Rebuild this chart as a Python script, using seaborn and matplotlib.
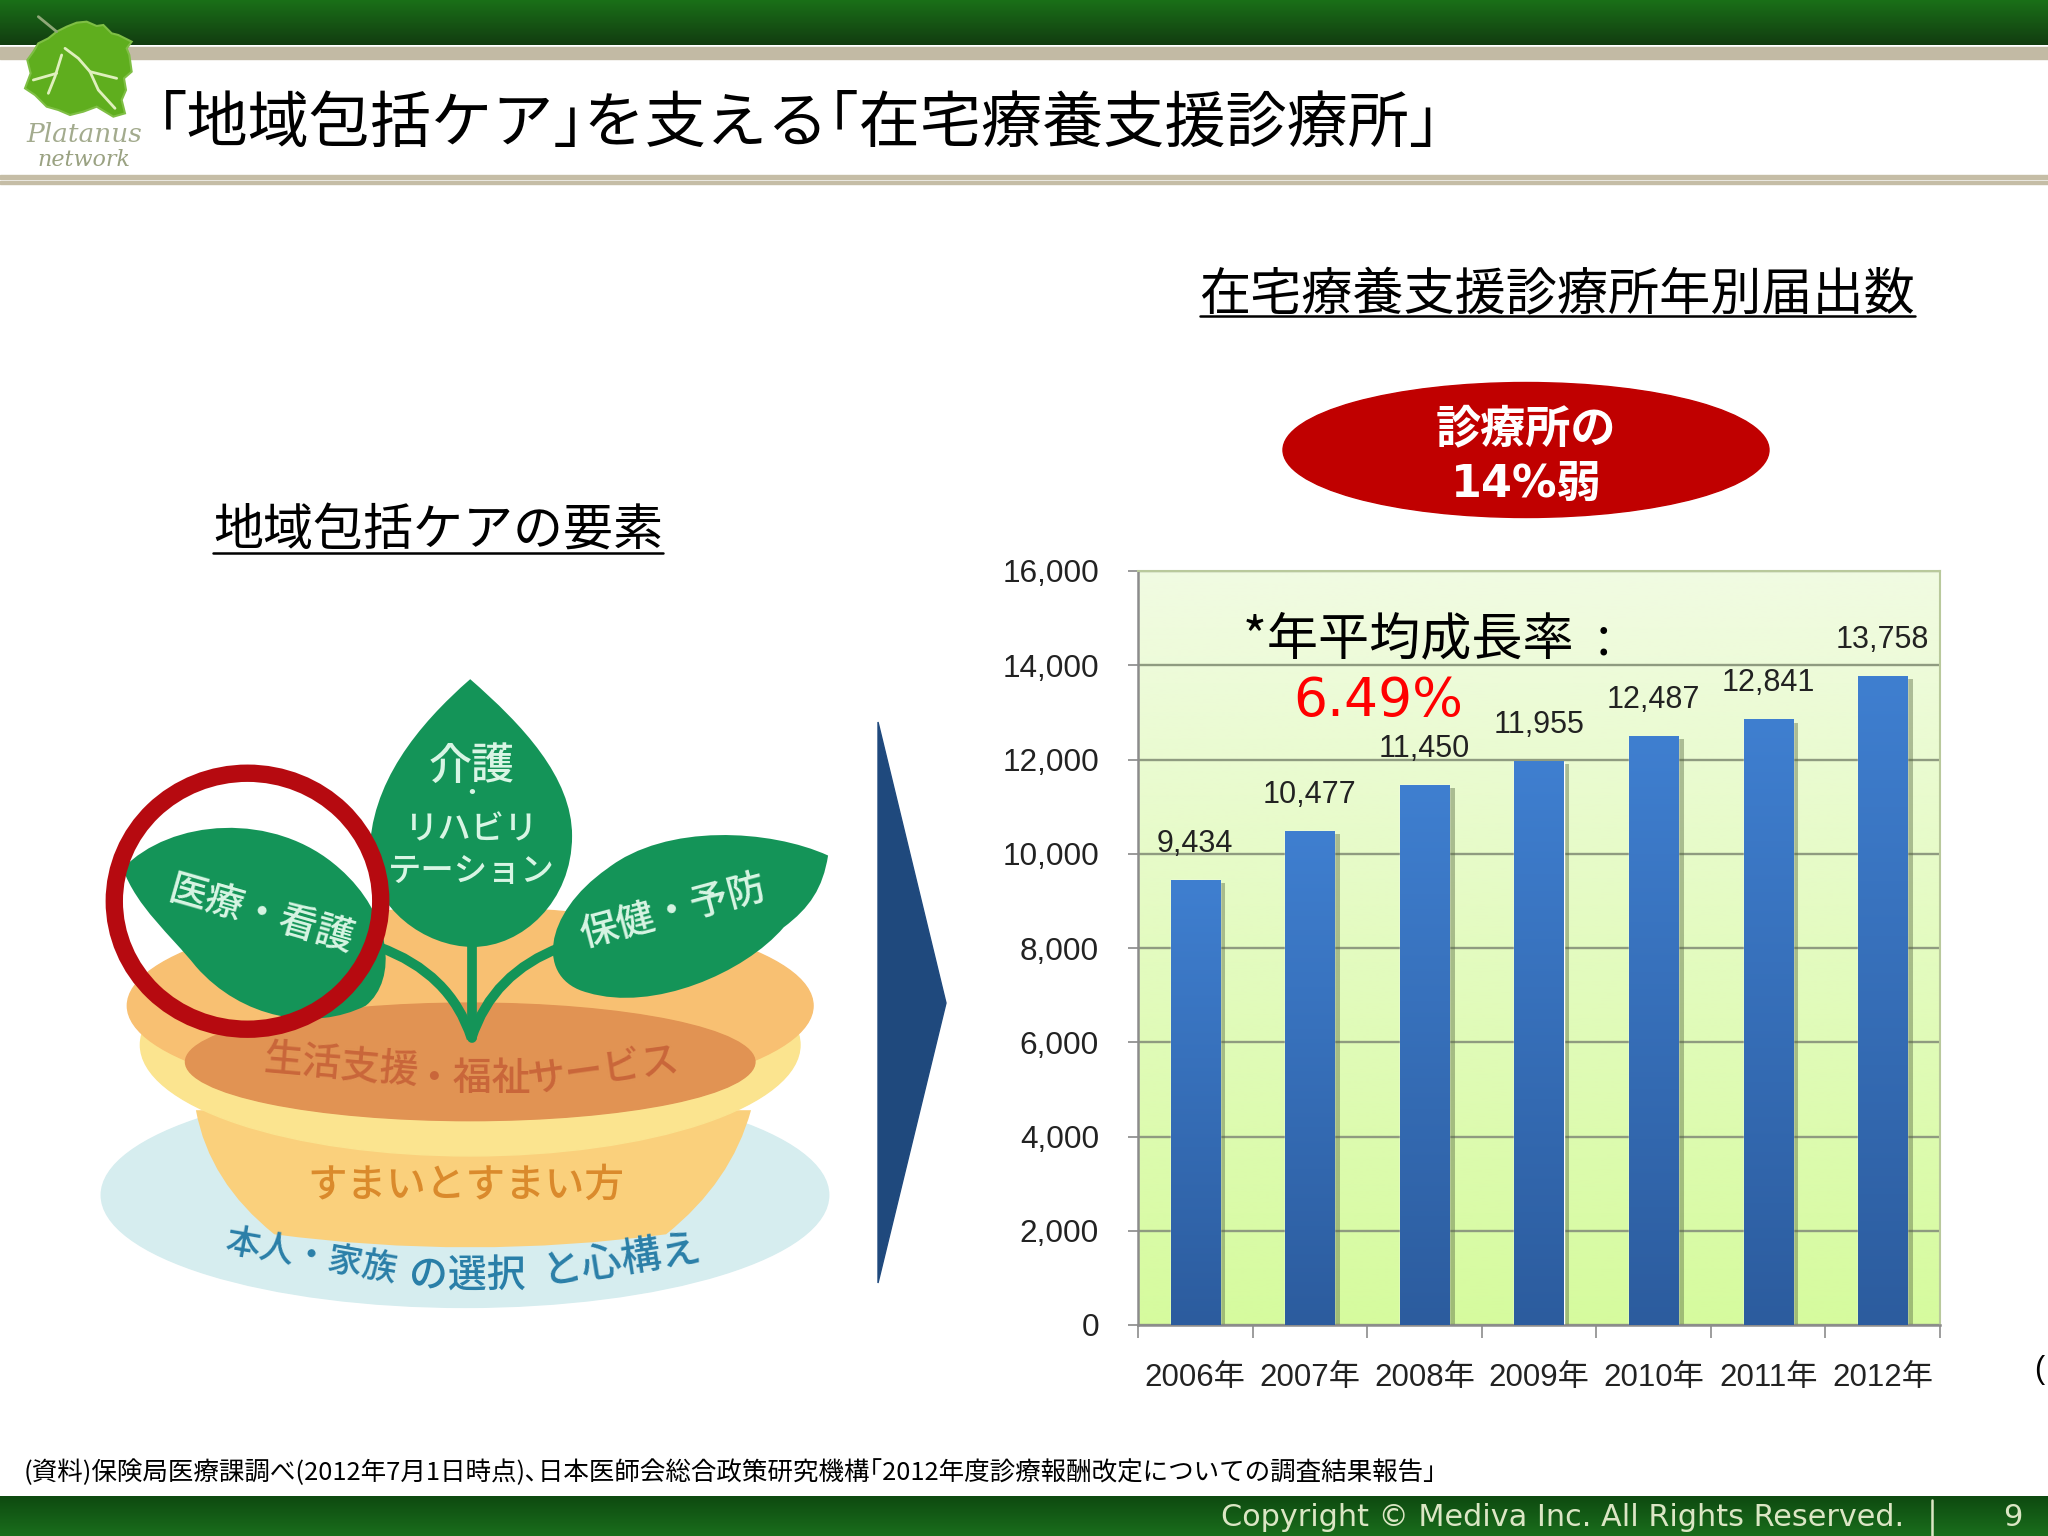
import numpy as np
import matplotlib
matplotlib.use("Agg")
import matplotlib.pyplot as plt
import seaborn as sns
from matplotlib.patches import Ellipse, Polygon, PathPatch, Rectangle
from matplotlib.path import Path
from matplotlib.colors import LinearSegmentedColormap
from matplotlib import patheffects as pe
from matplotlib.ticker import FuncFormatter

years = ["2006年", "2007年", "2008年", "2009年", "2010年", "2011年", "2012年"]
counts = [9434, 10477, 11450, 11955, 12487, 12841, 13758]
y_ticks = [0, 2000, 4000, 6000, 8000, 10000, 12000, 14000, 16000]

JP = ["Noto Sans CJK JP", "DejaVu Sans"]
NUM = ["Liberation Sans", "Noto Sans CJK JP"]

sns.set_theme(style="white")
plt.rcParams["font.family"] = JP

W, H = 2048, 1536
fig = plt.figure(figsize=(W / 100, H / 100), dpi=100, facecolor="white")


def vgrad(top, bottom):
    return LinearSegmentedColormap.from_list("g", [top, bottom])


# ---------- chart ----------
L, R, T, B = 1138, 1940, 571, 1325
ax = fig.add_axes([L / W, 1 - B / H, (R - L) / W, (B - T) / H], zorder=1)
plot_df = {"year": years, "count": counts}
sns.barplot(data=plot_df, x="year", y="count", width=0.43, color="#3a74c2",
            saturation=1, ax=ax, zorder=2)
ax.set_xlim(-0.5, 6.5)
ax.set_ylim(0, 16000)
ax.set_xlabel("")
ax.set_ylabel("")
grad = np.linspace(0, 1, 256).reshape(-1, 1)
ax.imshow(grad, extent=(-0.5, 6.5, 0, 16000), aspect="auto", zorder=0,
          cmap=vgrad("#f1fbe2", "#d6fb9e"), origin="upper")
for bar in ax.patches:
    bar.set_path_effects([pe.SimplePatchShadow(offset=(4, -2), shadow_rgbFace="#55663f", alpha=0.42),
                          pe.Normal()])
    x0, y0 = bar.get_x(), bar.get_y()
    ax.imshow(grad, extent=(x0, x0 + bar.get_width(), y0, y0 + bar.get_height()),
              aspect="auto", zorder=3, cmap=vgrad("#3f7fd0", "#2c5c9e"), origin="upper")
ax.set_xlim(-0.5, 6.5)
ax.set_ylim(0, 16000)
ax.set_axisbelow(True)
ax.yaxis.grid(True, color="#8f9b80", lw=1.7)
ax.xaxis.grid(False)
ax.set_yticks(y_ticks)
ax.yaxis.set_major_formatter(FuncFormatter(lambda v, _: f"{int(v):,}"))
ax.set_xticks(np.arange(-0.5, 7, 1), minor=True)
ax.tick_params(axis="x", which="major", length=0, pad=27.5, labelsize=22.5, labelcolor="#222222")
ax.tick_params(axis="x", which="minor", length=9, width=1.2, color="#8c8c8c", bottom=True)
ax.tick_params(axis="y", length=7, width=1.4, color="#9a9a9a", pad=21, labelsize=22.7,
               labelcolor="#222222", left=True)
for lab in ax.get_xticklabels() + ax.get_yticklabels():
    lab.set_fontfamily(NUM)
for side in ["top", "right"]:
    ax.spines[side].set_color("#b9c99c")
    ax.spines[side].set_linewidth(1.5)
for side in ["left", "bottom"]:
    ax.spines[side].set_color("#8c8c8c")
    ax.spines[side].set_linewidth(1.8)
labels = ax.bar_label(ax.containers[0], labels=[f"{v:,}" for v in counts], padding=15.5,
                      fontsize=22, color="#222222", zorder=5)
for t in labels:
    t.set_fontfamily(NUM)

# ---------- slide overlay ----------
ov = fig.add_axes([0, 0, 1, 1], zorder=10)
ov.set_xlim(0, W)
ov.set_ylim(H, 0)
ov.axis("off")
ov.patch.set_alpha(0)

S = 2048 / 1568


def P(pts):
    return [(x * S, y * S) for x, y in pts]


def txt(x, y, s, size, color="black", ha="center", va="center", rot=0, **kw):
    return ov.text(x, y + 4, s, fontsize=size, color=color, ha=ha, va=va, rotation=rot,
                   rotation_mode="anchor", **kw)


def band(y0, y1, top, bottom):
    ov.imshow(grad, extent=(0, W, y1, y0), aspect="auto", cmap=vgrad(top, bottom), origin="lower", zorder=1)


band(0, 45, "#123c10", "#1a7018")
ov.add_patch(Rectangle((0, 47), W, 12, color="#c2baa4", zorder=1))
ov.add_patch(Rectangle((0, 175), W, 3.5, color="#c5bda6", zorder=1))
ov.add_patch(Rectangle((0, 180.5), W, 3.5, color="#c5bda6", zorder=1))
band(1496, 1536, "#1a6e1c", "#0e4a10")
ov.set_xlim(0, W)
ov.set_ylim(H, 0)

# logo
leaf_pts = [(170, 95), (200, 80), (230, 68), (260, 65), (290, 78), (310, 75), (335, 100), (355, 105), (395, 125),
            (380, 145), (388, 165), (395, 215), (372, 235), (378, 270), (365, 300), (375, 340), (340, 350),
            (315, 335), (290, 320), (250, 335), (210, 345), (175, 330), (140, 320), (105, 285), (75, 265),
            (92, 220), (82, 180), (100, 155), (115, 130), (145, 115)]
ov.add_patch(Polygon([(x / 3, y / 3) for x, y in leaf_pts], closed=True, fc="#5fae1e", ec="#7fbf45", lw=1.5, zorder=3))
for seg in ([(195, 145), (235, 175), (270, 215), (295, 270), (345, 325)],
            [(185, 165), (165, 230), (145, 280)],
            [(270, 215), (350, 235)],
            [(100, 240), (170, 220)],
            [(115, 50), (170, 95)]):
    xs, ys = zip(*seg)
    ov.plot(np.array(xs) / 3, np.array(ys) / 3, color="#dff0bd" if seg[0][0] != 115 else "#8fa878",
            lw=2.0, zorder=4, solid_capstyle="round")
txt(84, 131, "Platanus", 19, "#a3ab8e", family="DejaVu Serif", style="italic")
txt(84, 156, "network", 16, "#9aa282", family="DejaVu Serif", style="italic")

# title
txt(157, 121, "｢地域包括ケア｣を支える｢在宅療養支援診療所｣", 44, ha="left")

# subtitles
txt(1557, 291, "在宅療養支援診療所年別届出数", 36.8)
ov.plot([1200, 1915], [316, 316], color="black", lw=1.8, zorder=3)
txt(438, 527, "地域包括ケアの要素", 36)
ov.plot([213, 663], [553, 553], color="black", lw=1.8, zorder=3)

# red badge
ov.add_patch(Ellipse((1526, 450), 486, 135, color="#c00000", zorder=3))
txt(1526, 425, "診療所の", 32.5, "white", weight="bold", zorder=4)
txt(1526, 480, "14%弱", 32, "white", weight="bold", zorder=4, family=["DejaVu Sans", "Noto Sans CJK JP"])

# chart notes
txt(1243, 636, "*年平均成長率  :", 36.8, ha="left", zorder=6)
txt(1378, 697, "6.49%", 38.5, "#ff0000", family="DejaVu Sans", zorder=6)
txt(2039, 1366, "(", 22, family="Liberation Sans")

# arrow
ov.add_patch(Polygon([(878, 722), (946, 1003), (878, 1283)], closed=True, color="#1f497d", zorder=3))

# illustration
z = 3
ov.add_patch(Ellipse((356 * S, 915 * S), 557 * S, 172 * S, color="#d6edef", zorder=z))
lower = Path(P([(150, 850), (160, 905), (210, 945), (360, 965), (510, 945), (560, 905), (575, 850), (360, 850), (150, 850)]),
             [Path.MOVETO, Path.CURVE3, Path.CURVE3, Path.CURVE3, Path.CURVE3, Path.CURVE3, Path.CURVE3, Path.LINETO, Path.CLOSEPOLY])
ov.add_patch(PathPatch(lower, fc="#fad07c", ec="none", zorder=z + 1))
ov.add_patch(Ellipse((360 * S, 800 * S), 505 * S, 170 * S, color="#fbe48f", zorder=z + 2))
ov.add_patch(Ellipse((360 * S, 770 * S), 525 * S, 150 * S, color="#f8c072", zorder=z + 3))
ov.add_patch(Ellipse((360 * S, 813 * S), 436 * S, 90 * S, color="#e19353", zorder=z + 4))

GREEN = "#149458"
ov.plot(*zip(*P([(361, 715), (361, 795)])), color=GREEN, lw=7, zorder=z + 5, solid_capstyle="round")
for pts in ([(290, 725), (345, 745), (361, 795)], [(430, 725), (377, 745), (361, 795)]):
    ov.add_patch(PathPatch(Path(P(pts), [Path.MOVETO, Path.CURVE3, Path.CURVE3]), fc="none", ec=GREEN, lw=7, zorder=z + 5))


def leaf(pts):
    codes = [Path.MOVETO] + [Path.CURVE4] * (len(pts) - 1)
    ov.add_patch(PathPatch(Path(P(pts), codes), fc=GREEN, ec="none", zorder=z + 6))


leaf([(360, 520), (320, 555), (283, 600), (283, 655), (285, 695), (325, 725), (362, 725),
      (400, 725), (438, 690), (438, 640), (438, 595), (400, 555), (360, 520)])
leaf([(94, 665), (130, 627), (210, 620), (260, 665), (300, 700), (305, 750), (280, 770),
      (240, 790), (185, 780), (150, 740), (130, 715), (105, 695), (94, 665)])
leaf([(634, 655), (590, 635), (510, 630), (465, 665), (415, 700), (410, 750), (450, 760),
      (500, 775), (570, 745), (600, 710), (620, 695), (630, 680), (634, 655)])

ov.add_patch(Ellipse((189.5 * S, 690 * S), 204 * S, 196 * S, fc="none", ec="#b60a10", lw=12.5, zorder=z + 8))

LT = "#d8f5e4"
kw = dict(zorder=z + 7, weight="medium")
txt(361 * S, 584 * S, "介護", 31, LT, **kw)
txt(361 * S, 604 * S, "・", 15, LT, zorder=z + 7, weight="bold")
txt(361 * S, 632 * S, "リハビリ", 24, LT, **kw)
txt(361 * S, 664 * S, "テーション", 24, LT, **kw)
txt(200 * S, 697 * S, "医療・看護", 27.5, LT, rot=-16, **kw)
txt(515 * S, 695 * S, "保健・予防", 27.5, LT, rot=15, **kw)

C1 = "#c9663a"
txt(261 * S, 813 * S, "生活支援", 28, C1, rot=-5, **kw)
txt(362 * S, 823 * S, "・福祉", 28, C1, **kw)
txt(462 * S, 816 * S, "サービス", 27.5, C1, rot=8, **kw)
txt(357 * S, 905 * S, "すまいとすまい方", 28.5, "#da8a2c", **kw)
C2 = "#2a7fa8"
txt(238 * S, 959 * S, "本人・家族", 25, C2, rot=-10, **kw)
txt(358 * S, 974 * S, "の選択", 28, C2, **kw)
txt(476 * S, 962 * S, "と心構え", 29, C2, rot=9, **kw)

# footer
txt(24, 1469, "(資料)保険局医療課調べ(2012年7月1日時点)､日本医師会総合政策研究機構｢2012年度診療報酬改定についての調査結果報告｣", 18.4, ha="left")
txt(1221, 1514, "Copyright © Mediva Inc. All Rights Reserved.", 21.8, "#dbe6c4", ha="left", family="DejaVu Sans", zorder=4)
ov.plot([1932, 1932], [1500, 1536], color="#dbe6c4", lw=1.8, zorder=4)
txt(2013, 1514, "9", 22, "#dbe6c4", family="DejaVu Sans", zorder=4)

ov.set_xlim(0, W)
ov.set_ylim(H, 0)
fig.savefig("out.png", dpi=100, facecolor="white")
